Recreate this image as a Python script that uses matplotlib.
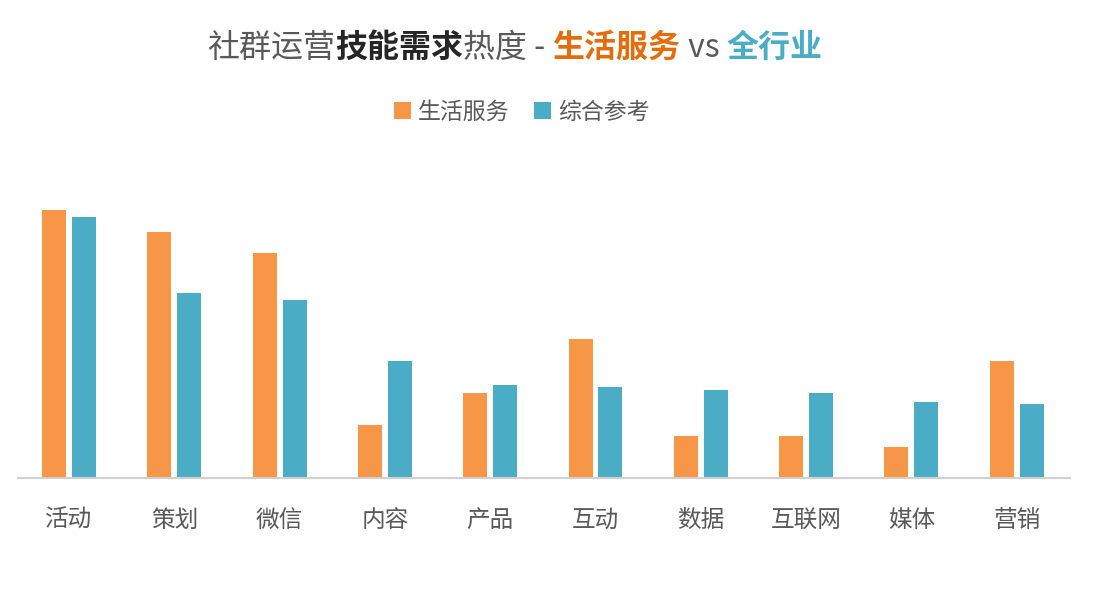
import matplotlib
matplotlib.use('Agg')
import matplotlib.pyplot as plt
import numpy as np

plt.rcParams['font.family'] = ['Noto Sans CJK SC', 'DejaVu Sans']

# 数据
categories = ['活动', '策划', '微信', '内容', '产品', '互动', '数据', '互联网', '媒体', '营销']
life_service = [268, 246, 225, 53, 85, 139, 42, 42, 31, 117]
overall_ref = [261, 185, 178, 117, 93, 91, 88, 85, 76, 74]
series_names = ['生活服务', '综合参考']

c_orange = '#F79646'
c_blue = '#4BACC6'
c_text = '#595959'

fig = plt.figure(figsize=(10.96, 6.12), dpi=100)
ax = fig.add_axes([0.0164, 0.219, 0.9598, 0.49])

x = np.arange(len(categories))
w = 0.228
ax.bar(x - 0.142, life_service, w, color=c_orange, label=series_names[0])
ax.bar(x + 0.142, overall_ref, w, color=c_blue, label=series_names[1])

ax.set_xlim(-0.485, 9.505)
ax.set_ylim(0, 300)
ax.set_yticks([])
ax.set_xticks(x)
ax.set_xticklabels(categories, fontsize=17, color=c_text)
ax.tick_params(axis='x', length=0, pad=22)
for s in ['top', 'right', 'left']:
    ax.spines[s].set_visible(False)
ax.spines['bottom'].set_color('#D0D0D0')
ax.spines['bottom'].set_linewidth(1.5)

leg = fig.legend(loc='center', bbox_to_anchor=(0.476, 0.817), ncol=2, frameon=False,
                 fontsize=16.5, handlelength=0.75, handleheight=0.75, handletextpad=0.3,
                 columnspacing=1.1)
for t in leg.get_texts():
    t.set_color(c_text)

# 标题分段绘制
parts = [
    ('社群运营', c_text, 'normal'),
    ('技能需求', '#262626', 'bold'),
    ('热度 - ', c_text, 'normal'),
    ('生活服务', '#E46C0A', 'bold'),
    (' vs ', c_text, 'normal'),
    ('全行业', c_blue, 'bold'),
]
renderer = fig.canvas.get_renderer()
texts = []
xpos = 0.0
for s, col, wt in parts:
    t = fig.text(xpos, 0.922, s, color=col, fontweight=wt, fontsize=23,
                 ha='left', va='center', transform=fig.transFigure)
    bb = t.get_window_extent(renderer)
    texts.append(t)
    xpos += bb.width / fig.bbox.width
start = 0.189
for t in texts:
    px, py = t.get_position()
    t.set_position((px + start, py))

fig.savefig('out.png', dpi=100)
